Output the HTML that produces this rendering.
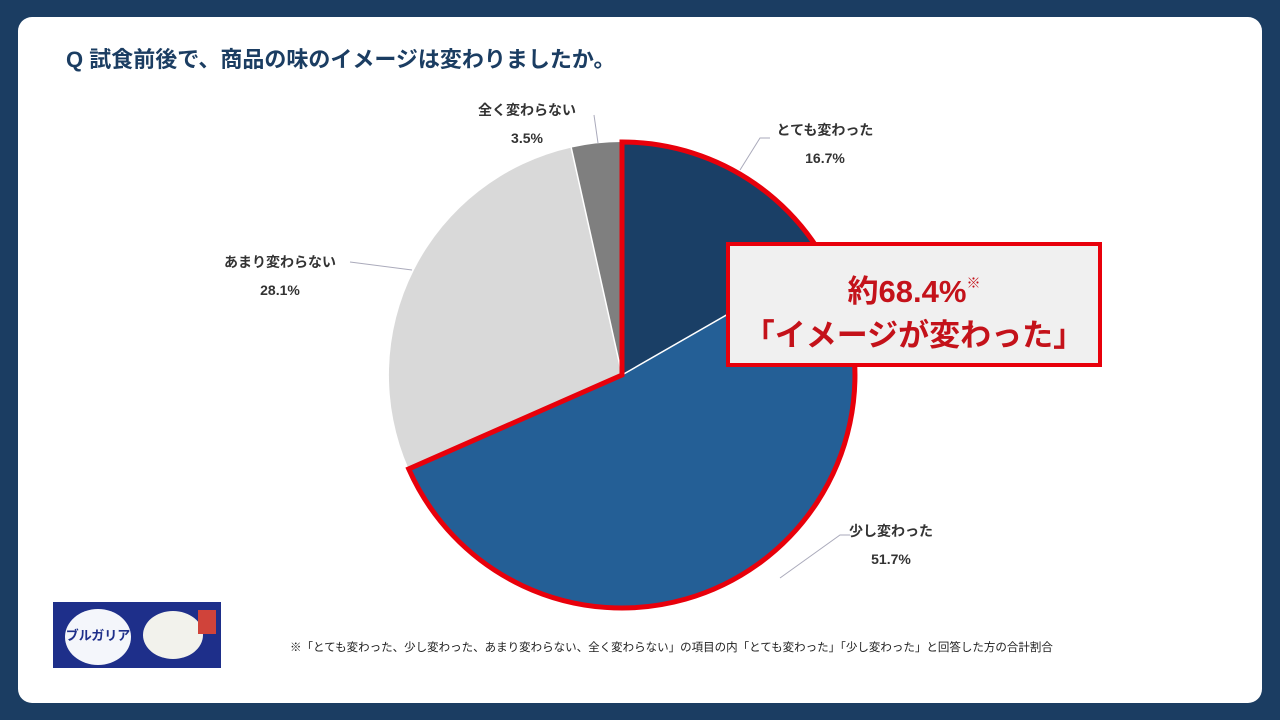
<!DOCTYPE html>
<html><head><meta charset="utf-8"><style>
body{margin:0;width:1280px;height:720px;background:#1b3d62;font-family:"Liberation Sans","Noto Sans CJK JP",sans-serif;position:relative;overflow:hidden}
.card{position:absolute;left:18px;top:17px;width:1244px;height:686px;background:#fff;border-radius:14px}
.t{position:absolute;color:#1b3d62;font-weight:bold;font-size:22px;left:66px;top:42px}
.lbl{position:absolute;font-size:14px;color:#333;text-align:center;line-height:28px;font-weight:bold}
.box{position:absolute;left:726px;top:242px;width:368px;height:117px;background:#f0f0f0;border:4px solid #e8000b;color:#c4121a;font-weight:bold;text-align:center;font-size:31px;line-height:44px;box-sizing:content-box}
.fn{position:absolute;left:290px;top:639px;font-size:11.5px;color:#222;white-space:nowrap}
</style></head><body>
<div class="card"></div>
<div class="t">Q 試食前後で、商品の味のイメージは変わりましたか。</div>
<svg width="1280" height="720" style="position:absolute;left:0;top:0">
<path d="M622,375 L622,142 A233,233 0 0 1 824,258.9 Z" fill="#1a3f66"/>
<path d="M622,375 L824,258.9 A233,233 0 1 1 408.7,468.9 Z" fill="#245f96"/>
<path d="M622,375 L408.7,468.9 A233,233 0 0 1 571.2,147.6 Z" fill="#d9d9d9"/>
<path d="M622,375 L571.2,147.6 A233,233 0 0 1 622,142 Z" fill="#7f7f7f"/>
<g stroke="#fff" stroke-width="1.5"><line x1="622" y1="375" x2="622" y2="142"/><line x1="622" y1="375" x2="824" y2="258.9"/><line x1="622" y1="375" x2="408.7" y2="468.9"/><line x1="622" y1="375" x2="571.2" y2="147.6"/></g>
<path d="M622,375 L622,142 A233,233 0 1 1 408.7,468.9 Z" fill="none" stroke="#e8000b" stroke-width="5"/>
<g stroke="#aab" stroke-width="1" fill="none"><polyline points="740,170 760,138 770,138"/><polyline points="598,143 594,115"/><polyline points="412,270 350,262"/><polyline points="780,578 840,535 850,535"/></g>
</svg>
<div class="lbl" style="left:760px;top:116px;width:130px">とても変わった<br>16.7%</div>
<div class="lbl" style="left:462px;top:96px;width:130px">全く変わらない<br>3.5%</div>
<div class="lbl" style="left:210px;top:248px;width:140px">あまり変わらない<br>28.1%</div>
<div class="lbl" style="left:836px;top:517px;width:110px">少し変わった<br>51.7%</div>
<div class="box"><div style="margin-top:15px">約68.4%<sup style="font-size:14px;vertical-align:14px;font-weight:normal">※</sup></div><div>「イメージが変わった」</div></div>
<svg width="170" height="68" style="position:absolute;left:53px;top:602px"><rect width="168" height="66" fill="#1e2f8a"/><ellipse cx="45" cy="35" rx="33" ry="28" fill="#f4f6fb"/><text x="45" y="38" font-size="13" fill="#1e2f8a" text-anchor="middle" font-weight="bold" font-family="Liberation Sans,Noto Sans CJK JP,sans-serif">ブルガリア</text><ellipse cx="120" cy="33" rx="30" ry="24" fill="#f2f2ec"/><rect x="145" y="8" width="18" height="24" fill="#d0433a"/></svg>
<div class="fn">※「とても変わった、少し変わった、あまり変わらない、全く変わらない」の項目の内「とても変わった」「少し変わった」と回答した方の合計割合</div>
</body></html>
